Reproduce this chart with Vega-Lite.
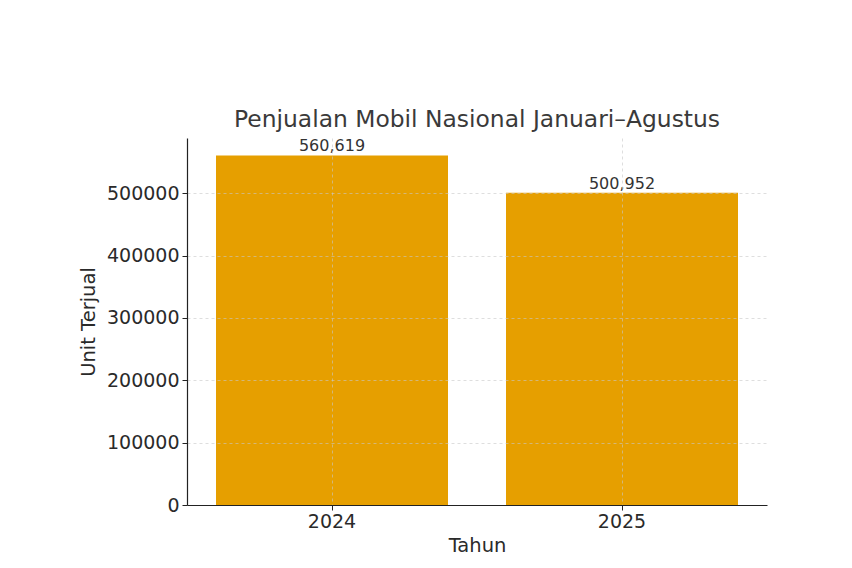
{
  "$schema": "https://vega.github.io/schema/vega-lite/v6.json",
  "width": 580,
  "height": 367,
  "autosize": {"type": "none"},
  "padding": {"left": 187, "top": 138, "right": 85, "bottom": 63},
  "background": "white",
  "config": {
    "font": "DejaVu Sans",
    "view": {"stroke": null}
  },
  "title": {
    "text": "Penjualan Mobil Nasional Januari–Agustus",
    "fontSize": 23.4,
    "fontWeight": "normal",
    "color": "#3a3a3a",
    "offset": 6,
    "font": "DejaVu Sans"
  },
  "data": {
    "values": [
      {"Tahun": "2024", "Unit": 560619},
      {"Tahun": "2025", "Unit": 500952}
    ]
  },
  "encoding": {
    "x": {
      "field": "Tahun",
      "type": "nominal",
      "scale": {"paddingInner": 0.2, "paddingOuter": 0.1},
      "axis": {
        "title": "Tahun",
        "labelAngle": 0,
        "labelFontSize": 19,
        "labelColor": "#2a2a2a",
        "titleFontSize": 19.5,
        "titleFontWeight": "normal",
        "titleColor": "#2a2a2a",
        "titlePadding": 5,
        "domainColor": "#222222",
        "domainWidth": 1.2,
        "tickColor": "#222222",
        "tickSize": 5,
        "labelPadding": 2,
        "grid": true,
        "gridDash": [3, 3],
        "gridColor": "#c8c8c8",
        "gridOpacity": 0.6,
        "bandPosition": 0.5,
        "zindex": 1
      }
    },
    "y": {
      "field": "Unit",
      "type": "quantitative",
      "scale": {"domain": [0, 588650], "nice": false},
      "axis": {
        "title": "Unit Terjual",
        "values": [0, 100000, 200000, 300000, 400000, 500000],
        "format": "d",
        "labelFontSize": 19,
        "labelColor": "#2a2a2a",
        "titleFontSize": 19.5,
        "titleFontWeight": "normal",
        "titleColor": "#2a2a2a",
        "titlePadding": 8,
        "domainColor": "#222222",
        "domainWidth": 1.2,
        "tickColor": "#222222",
        "tickSize": 5,
        "labelPadding": 3,
        "grid": true,
        "gridDash": [3, 3],
        "gridColor": "#c8c8c8",
        "gridOpacity": 0.6,
        "zindex": 1
      }
    }
  },
  "layer": [
    {
      "mark": {"type": "bar", "color": "#E69F00"}
    },
    {
      "mark": {"type": "text", "baseline": "bottom", "dy": -1, "fontSize": 16, "color": "#333333"},
      "encoding": {
        "text": {"field": "Unit", "type": "quantitative", "format": ",d"}
      }
    }
  ]
}
